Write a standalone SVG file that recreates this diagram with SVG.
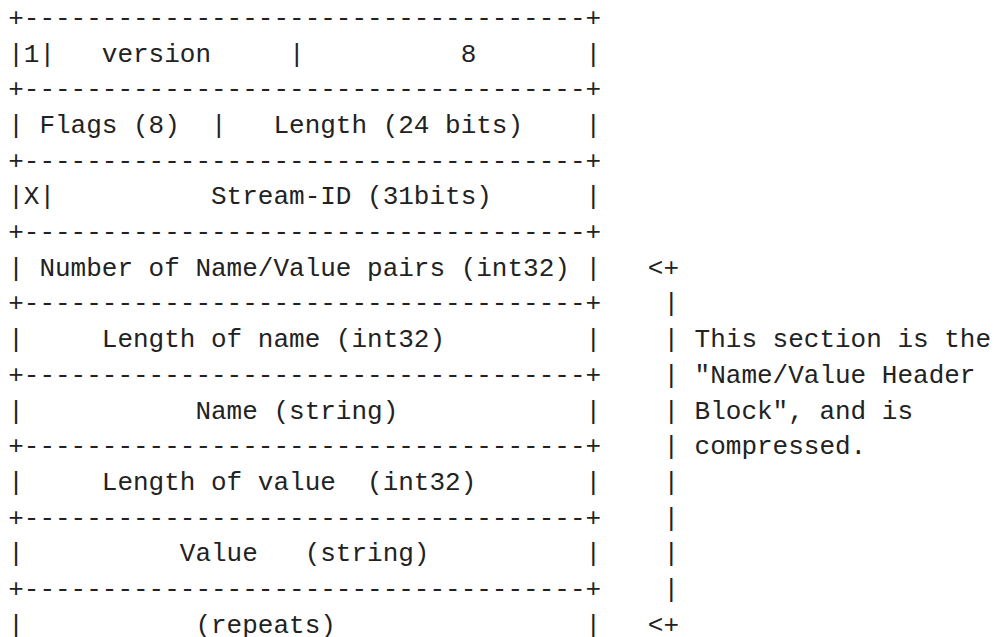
<svg xmlns="http://www.w3.org/2000/svg" width="994" height="637" viewBox="0 0 994 637">
<style>
text{font-family:"Liberation Mono","DejaVu Sans Mono",monospace;font-size:26px;fill:#222;white-space:pre}
</style>
<rect width="994" height="637" fill="#fff"/>
<g id="frame-top"><text x="8.2" y="25.8" xml:space="preserve">+------------------------------------+</text></g>
<g id="row-version">
<text x="8.2" y="61.5" xml:space="preserve">|1|   version     |          8       |</text>
<text x="8.2" y="97.2" xml:space="preserve">+------------------------------------+</text>
</g>
<g id="row-flags">
<text x="8.2" y="132.9" xml:space="preserve">| Flags (8)  |   Length (24 bits)    |</text>
<text x="8.2" y="168.6" xml:space="preserve">+------------------------------------+</text>
</g>
<g id="row-stream">
<text x="8.2" y="204.3" xml:space="preserve">|X|          Stream-ID (31bits)      |</text>
<text x="8.2" y="240" xml:space="preserve">+------------------------------------+</text>
</g>
<g id="row-pairs">
<text x="8.2" y="275.7" xml:space="preserve">| Number of Name/Value pairs (int32) |</text>
<text x="8.2" y="311.4" xml:space="preserve">+------------------------------------+</text>
</g>
<g id="row-namelen">
<text x="8.2" y="347.1" xml:space="preserve">|     Length of name (int32)         |</text>
<text x="8.2" y="382.8" xml:space="preserve">+------------------------------------+</text>
</g>
<g id="row-name">
<text x="8.2" y="418.5" xml:space="preserve">|           Name (string)            |</text>
<text x="8.2" y="454.2" xml:space="preserve">+------------------------------------+</text>
</g>
<g id="row-valuelen">
<text x="8.2" y="489.9" xml:space="preserve">|     Length of value  (int32)       |</text>
<text x="8.2" y="525.6" xml:space="preserve">+------------------------------------+</text>
</g>
<g id="row-value">
<text x="8.2" y="561.3" xml:space="preserve">|          Value   (string)          |</text>
<text x="8.2" y="597" xml:space="preserve">+------------------------------------+</text>
</g>
<g id="row-repeats">
<text x="8.2" y="632.7" xml:space="preserve">|           (repeats)                |</text>
</g>
<g id="connectors">
<text x="647.8" y="275.7">&lt;+</text>
<text x="663.4" y="311.4">|</text>
<text x="663.4" y="347.1">|</text>
<text x="663.4" y="382.8">|</text>
<text x="663.4" y="418.5">|</text>
<text x="663.4" y="454.2">|</text>
<text x="663.4" y="489.9">|</text>
<text x="663.4" y="525.6">|</text>
<text x="663.4" y="561.3">|</text>
<text x="663.4" y="597">|</text>
<text x="647.8" y="632.7">&lt;+</text>
</g>
<g id="note">
<text x="694.6" y="347.1">This section is the</text>
<text x="694.6" y="382.8">"Name/Value Header</text>
<text x="694.6" y="418.5">Block", and is</text>
<text x="694.6" y="454.2">compressed.</text>
</g>
</svg>
